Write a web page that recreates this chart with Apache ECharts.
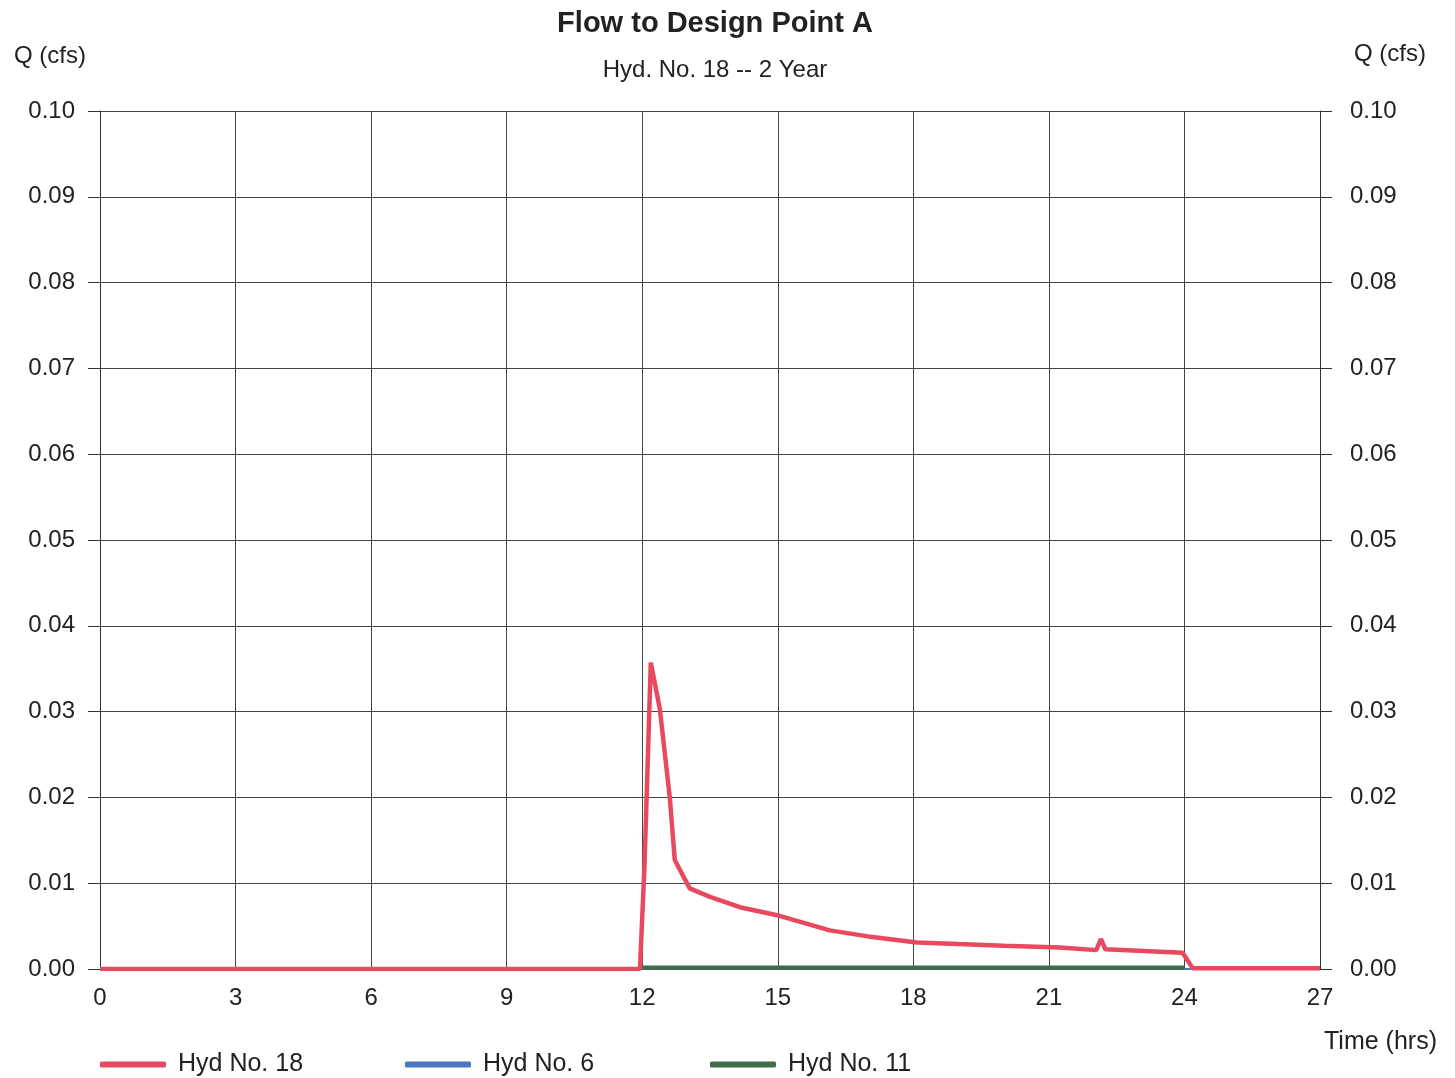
<!DOCTYPE html>
<html>
<head>
<meta charset="utf-8">
<script src="https://cdn.jsdelivr.net/npm/echarts@6/dist/echarts.min.js"></script>
<style>
  html, body { margin: 0; padding: 0; background: #fff; }
  #chart { width: 1455px; height: 1078px; }
</style>
</head>
<body>
<div id="chart"></div>
<script>
// hydrograph points [time (hrs), Q (cfs)]
var hyd18 = [
  [0, 0], [11.95, 0], [12.05, 0.012], [12.19, 0.0357], [12.39, 0.0303],
  [12.61, 0.020], [12.72, 0.0127], [13.05, 0.0094], [13.5, 0.0084],
  [14.16, 0.0072], [15.04, 0.0062], [15.5, 0.0055], [16.15, 0.0045],
  [17, 0.0038], [18.08, 0.0031], [19, 0.0029], [20, 0.0027],
  [21.24, 0.0025], [22.05, 0.0022], [22.15, 0.0035], [22.25, 0.0023],
  [23.96, 0.0019], [24.18, 0.0001], [27, 0.0001]
]
var hyd6 = [[0, 0], [27, 0]]
var hyd11 = [[12, 0.00015], [24, 0.00015]]
var seriesNames = ['Hyd No. 18', 'Hyd No. 6', 'Hyd No. 11']
var seriesColors = ['#e8495f', '#4a78c0', '#3f6d4c']

var myChart = echarts.init(document.getElementById('chart'))
var font = '"Liberation Sans", Arial, sans-serif'

function legendAt(name, left) {
  return {
    data: [name],
    left: left,
    top: 1047,
    icon: 'roundRect',
    itemWidth: 66,
    itemHeight: 6,
    itemGap: 12,
    textStyle: { fontFamily: font, fontSize: 25, color: '#222', padding: [0, 0, 0, 7] }
  }
}

var axisLabelStyle = {
  fontFamily: font,
  fontSize: 24,
  color: '#222'
}

function fmt(v) {
  return v.toFixed(2)
}

myChart.setOption({
  animation: false,
  title: [
    {
      text: 'Flow to Design Point A',
      left: 710,
      textAlign: 'center',
      top: 4,
      textStyle: { fontFamily: font, fontSize: 29, fontWeight: 'bold', color: '#222' }
    },
    {
      text: 'Hyd. No. 18 -- 2 Year',
      left: 710,
      textAlign: 'center',
      top: 53,
      textStyle: { fontFamily: font, fontSize: 24, fontWeight: 'normal', color: '#222' }
    },
    {
      text: 'Q (cfs)',
      left: 9,
      top: 39,
      textStyle: { fontFamily: font, fontSize: 24, fontWeight: 'normal', color: '#222' }
    },
    {
      text: 'Q (cfs)',
      left: 1349,
      top: 37,
      textStyle: { fontFamily: font, fontSize: 24, fontWeight: 'normal', color: '#222' }
    },
    {
      text: 'Time (hrs)',
      left: 1319,
      top: 1025,
      textStyle: { fontFamily: font, fontSize: 25, fontWeight: 'normal', color: '#222' }
    }
  ],
  legend: [
    legendAt(seriesNames[0], 95),
    legendAt(seriesNames[1], 400),
    legendAt(seriesNames[2], 705)
  ],
  grid: {
    left: 100,
    right: 135,
    top: 111,
    bottom: 109,
    containLabel: false
  },
  xAxis: {
    type: 'value',
    min: 0,
    max: 27,
    interval: 3,
    axisLine: { show: true, onZero: false, lineStyle: { color: '#333', width: 1 } },
    axisTick: { show: false },
    axisLabel: Object.assign({ margin: 17 }, axisLabelStyle),
    splitLine: { show: true, lineStyle: { color: '#444', width: 1 } }
  },
  yAxis: [
    {
      type: 'value',
      min: 0,
      max: 0.1,
      interval: 0.01,
      position: 'left',
      axisLine: { show: true, lineStyle: { color: '#333', width: 1 } },
      axisTick: { show: true, length: 12, lineStyle: { color: '#333' } },
      axisLabel: Object.assign({ margin: 25, formatter: fmt }, axisLabelStyle),
      splitLine: { show: true, lineStyle: { color: '#444', width: 1 } }
    },
    {
      type: 'value',
      min: 0,
      max: 0.1,
      interval: 0.01,
      position: 'right',
      axisLine: { show: true, lineStyle: { color: '#333', width: 1 } },
      axisTick: { show: true, length: 12, lineStyle: { color: '#333' } },
      axisLabel: Object.assign({ margin: 30, formatter: fmt }, axisLabelStyle),
      splitLine: { show: false }
    }
  ],
  series: [
    {
      name: seriesNames[1],
      type: 'line',
      data: hyd6,
      symbol: 'none',
      z: 2,
      lineStyle: { color: seriesColors[1], width: 2 },
      itemStyle: { color: seriesColors[1] }
    },
    {
      name: seriesNames[0],
      type: 'line',
      data: hyd18,
      symbol: 'none',
      z: 3,
      lineStyle: { color: seriesColors[0], width: 4.5 },
      itemStyle: { color: seriesColors[0] }
    },
    {
      name: seriesNames[2],
      type: 'line',
      data: hyd11,
      symbol: 'none',
      z: 4,
      lineStyle: { color: seriesColors[2], width: 4.5 },
      itemStyle: { color: seriesColors[2] }
    }
  ]
})
</script>
</body>
</html>
